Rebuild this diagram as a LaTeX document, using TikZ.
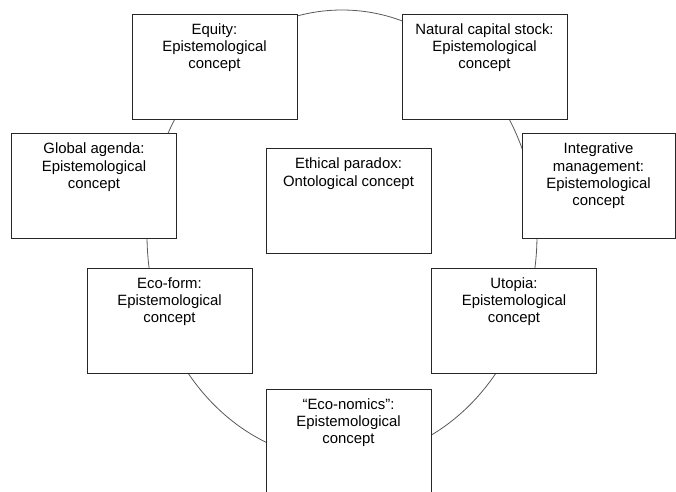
\documentclass[tikz,border=0pt]{standalone}
\usepackage{fontspec}
\setmainfont{Liberation Sans}
\usepackage{tikz}

\newcommand{\boxtext}[2][150pt]{\parbox[t][86pt][t]{#1}{\centering #2}}

\begin{document}
\begin{tikzpicture}[
  x=1pt, y=-1pt,
  concept/.style={draw=black!85, line width=0.9pt, fill=white, minimum width=165pt,
    minimum height=105pt, inner xsep=4pt, inner ysep=9.5pt,
    font=\fontsize{14.9}{17.3}\selectfont},
  ring/.style={draw=black!65, line width=0.8pt}
]
\clip (0,0) rectangle (676,491);

\draw[ring] (342,235) ellipse [x radius=195, y radius=225];

\node[concept] (equity) at (214.5,66.5) {\boxtext{Equity:\\Epistemological\\concept}};
\node[concept] (capital) at (484.5,66.5) {\boxtext{Natural capital stock:\\Epistemological\\concept}};
\node[concept] (agenda) at (94,186) {\boxtext{Global agenda:\\Epistemological\\concept}};
\node[concept] (paradox) at (348.5,201) {\boxtext{Ethical paradox:\\Ontological concept}};
\node[concept, minimum width=153pt] (manage) at (598.5,186) {\boxtext[140pt]{Integrative\\management:\\Epistemological\\concept}};
\node[concept] (ecoform) at (169.5,320.5) {\boxtext{Eco-form:\\Epistemological\\concept}};
\node[concept] (utopia) at (514,320.5) {\boxtext{Utopia:\\Epistemological\\concept}};
\node[concept] (economics) at (348.5,441.5) {\boxtext{“Eco-nomics”:\\Epistemological\\concept}};
\end{tikzpicture}
\end{document}
